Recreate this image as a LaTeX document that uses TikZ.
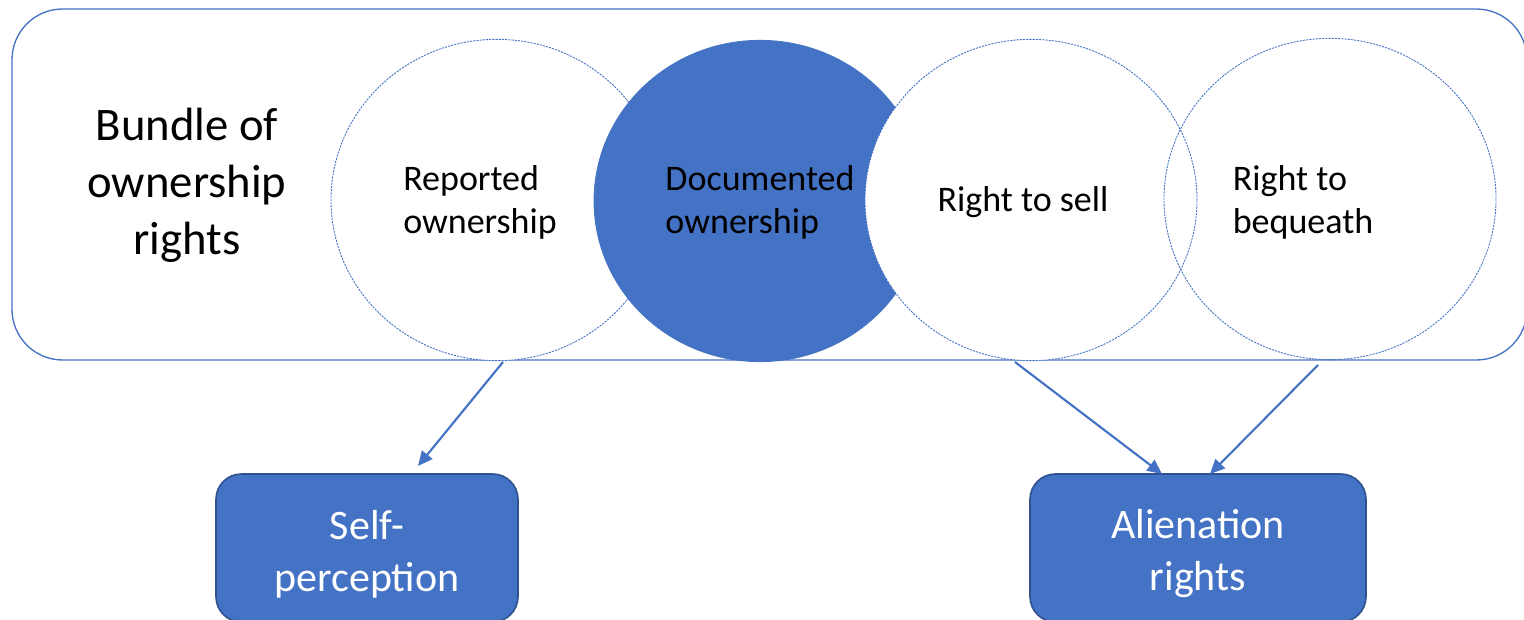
\documentclass[tikz,border=0pt]{standalone}
\usepackage{fontspec}
\setmainfont{Carlito}
\usetikzlibrary{shapes.geometric,arrows.meta}
\definecolor{obl}{HTML}{4472C4}
\definecolor{obd}{HTML}{2F528F}
\tikzset{
  oval/.style={ellipse, minimum width=249pt, minimum height=241pt, inner sep=0pt},
  ovalline/.style={draw=obl, line width=0.65pt, dash pattern=on 1.6pt off 0.8pt},
  ctext/.style={align=left, font=\fontsize{27}{32.25}\selectfont, inner sep=0pt},
  outbox/.style={draw=obd, line width=1.2pt, fill=obl, rounded corners=19pt, inner sep=0pt},
  outtext/.style={text=white, align=center, font=\fontsize{31.5}{39}\selectfont, inner sep=0pt},
  conn/.style={draw=obl, line width=1.6pt, -{Triangle[length=11pt,width=10pt]}},
}
\begin{document}
\begin{tikzpicture}[x=0.75pt,y=-0.75pt]
\useasboundingbox (0,0) rectangle (1524,620);
\begin{scope}
\clip (0,0) rectangle (1524,620);
% bundle frame
\draw[obl, line width=1pt, rounded corners=38pt] (12,9) rectangle (1527,360);
\node[align=center, font=\fontsize{35}{42.75}\selectfont, inner sep=0pt] (bundle) at (187,185) {Bundle of\\ownership\\rights};
% ovals
\node[oval, fill=white, ovalline] (rep) at (497,200) {};
\node[oval, fill=obl, draw=obl, line width=0.6pt] (doc) at (760,201) {};
\node[oval, fill=white, ovalline] (sell) at (1031,200) {};
\node[oval, ovalline] (beq) at (1330,199) {};
\node[ctext] (reptxt) at (480,202) {Reported\\ownership};
\node[ctext] (doctxt) at (760,202) {Documented\\ownership};
\node[ctext] (selltxt) at (1023,202) {Right to sell};
\node[ctext] (beqtxt) at (1303,202) {Right to\\bequeath};
% output boxes
\node[outbox, minimum width=226.5pt, minimum height=111pt] (self) at (367,548) {};
\node[outbox, minimum width=252pt, minimum height=111pt] (alien) at (1198,548) {};
\node[outtext] (selftxt) at (367,554) {Self-\\perception};
\node[outtext] (alientxt) at (1198,554) {Alienation\\rights};
% connectors
\coordinate (a1) at (503,362);
\coordinate (e1) at (418,466);
\coordinate (a2) at (1015,362);
\coordinate (e2) at (1162,474);
\coordinate (a3) at (1318,365);
\coordinate (e3) at (1210,474);
\draw[conn] (a1) -- (e1);
\draw[conn] (a2) -- (e2);
\draw[conn] (a3) -- (e3);
\end{scope}
\end{tikzpicture}
\end{document}
